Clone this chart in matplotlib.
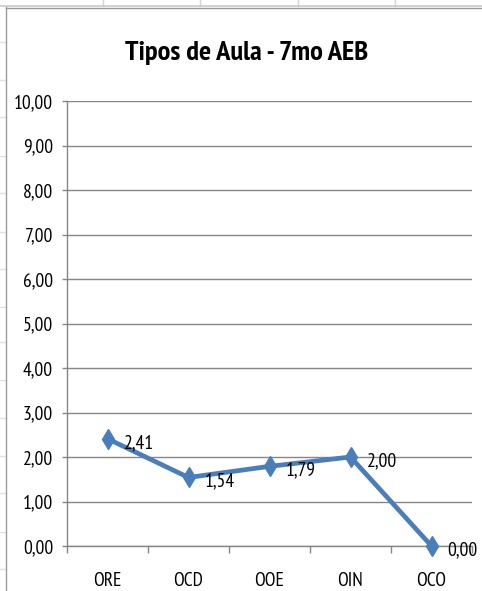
import matplotlib
matplotlib.use("Agg")
import matplotlib.pyplot as plt
from matplotlib.lines import Line2D

categories = ["ORE", "OCD", "OOE", "OIN", "OCO"]
values = [2.41, 1.54, 1.79, 2.00, 0.00]
labels = ["2,41", "1,54", "1,79", "2,00", "0,00"]
yticks = [0, 1, 2, 3, 4, 5, 6, 7, 8, 9, 10]
ytick_labels = ["0,00", "1,00", "2,00", "3,00", "4,00", "5,00", "6,00", "7,00", "8,00", "9,00", "10,00"]
title = "Tipos de Aula - 7mo AEB"

plt.rcParams["font.family"] = ["PT Sans Narrow", "Carlito", "DejaVu Sans"]

W, H = 482, 591
fig = plt.figure(figsize=(W / 100, H / 100), dpi=100)

def fx(x): return x / W
def fy(y): return 1 - y / H

# spreadsheet background lines
for x in [103, 200, 298, 395]:
    fig.add_artist(Line2D([fx(x), fx(x)], [fy(0), fy(6)], color="#d4d4d4", lw=1))
for y in [42, 80, 117, 156, 193, 232, 269, 307, 342, 380, 418, 456, 493, 532, 569]:
    fig.add_artist(Line2D([fx(0), fx(5)], [fy(y), fy(y)], color="#e0e0e0", lw=1))
fig.add_artist(Line2D([fx(0), fx(482)], [fy(5.5), fy(5.5)], color="#c8c8c8", lw=1.2))
# chart border
fig.add_artist(Line2D([fx(6), fx(6)], [fy(7), fy(591)], color="#9a9a9a", lw=1))
fig.add_artist(Line2D([fx(6), fx(482)], [fy(7.5), fy(7.5)], color="#9a9a9a", lw=1))

ax = fig.add_axes([fx(67), fy(546), fx(472) - fx(67), fy(101) - fy(546)])
ax.set_xlim(0, len(categories))
ax.set_ylim(0, 10)
xs = [i + 0.5 for i in range(len(categories))]
ax.plot(xs, values, color="#4A7EBB", lw=3.4, marker="d", markersize=10.5,
        zorder=3, clip_on=False)
for x, v, t in zip(xs, values, labels):
    ax.annotate(t, (x, v), xytext=(11.5, -3), textcoords="offset points",
                ha="left", va="center", fontsize=14, color="black")

ax.set_yticks(yticks)
ax.set_yticklabels(ytick_labels, fontsize=14)
ax.set_xticks(xs)
ax.set_xticklabels(categories, fontsize=14)
ax.set_xticks(range(len(categories) + 1), minor=True)
ax.tick_params(axis="x", which="major", length=0, pad=19)
ax.tick_params(axis="x", which="minor", length=5, width=1, color="#868686", direction="out")
ax.tick_params(axis="y", length=3.5, width=1, color="#868686", direction="out", pad=6.5)
ax.yaxis.grid(True, color="#868686", lw=1)
ax.set_axisbelow(True)
for s in ["top", "right"]:
    ax.spines[s].set_visible(False)
for s in ["left", "bottom"]:
    ax.spines[s].set_color("#868686")
    ax.spines[s].set_linewidth(1)

fig.text(fx(247), fy(60), title, ha="center", va="baseline", fontsize=20.5, fontweight="bold")

fig.savefig("out.png", dpi=100)
